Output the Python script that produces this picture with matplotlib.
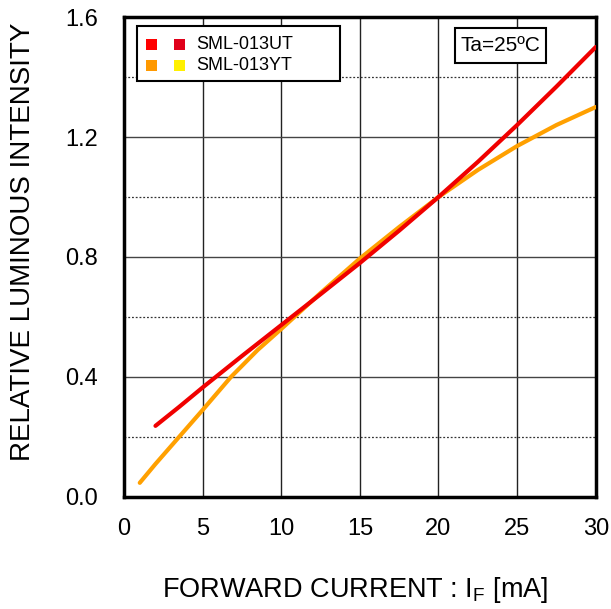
import matplotlib
matplotlib.use("Agg")
import matplotlib.pyplot as plt
from matplotlib.patches import Rectangle

plt.rcParams['font.family'] = ['Liberation Sans', 'DejaVu Sans']

# Data
ut_x = [2, 3.5, 5, 7.5, 10, 12.5, 15, 17.5, 20, 22.5, 25, 27.5, 30]
ut_y = [0.237, 0.30, 0.365, 0.47, 0.573, 0.676, 0.78, 0.888, 1.0, 1.117, 1.24, 1.368, 1.5]
yt_x = [1, 2, 3.5, 5, 6.8, 8.5, 10, 12.5, 15, 17.5, 20, 22.5, 25, 27.5, 30]
yt_y = [0.047, 0.11, 0.2, 0.29, 0.4, 0.49, 0.56, 0.68, 0.795, 0.90, 1.0, 1.09, 1.17, 1.24, 1.30]

xticks = [0, 5, 10, 15, 20, 25, 30]
yticks = [0.0, 0.4, 0.8, 1.2, 1.6]
ytick_labels = ["0.0", "0.4", "0.8", "1.2", "1.6"]
minor_y = [0.2, 0.6, 1.0, 1.4]

legend_labels = ["SML-013UT", "SML-013YT"]
legend_colors = [("#ff0000", "#e0001a"), ("#ff9900", "#fff000")]
red_line = "#f00000"
orange_line = "#ffa000"

fig = plt.figure(figsize=(6.11, 6.09), dpi=100)
ax = fig.add_axes([0.203, 0.184, 0.772, 0.788])
ax.set_xlim(0, 30)
ax.set_ylim(0, 1.6)

for x in xticks[1:-1]:
    ax.axvline(x, color="#222222", lw=1.0, zorder=1)
for y in yticks[1:-1]:
    ax.axhline(y, color="#444444", lw=1.0, zorder=1)
for y in minor_y:
    ax.axhline(y, color="#333333", lw=0.9, ls=(0, (1.5, 1.5)), zorder=1)

ax.plot(yt_x, yt_y, color=orange_line, lw=3, solid_capstyle="round", zorder=3)
ax.plot(ut_x, ut_y, color=red_line, lw=3, solid_capstyle="round", zorder=4)

ax.set_xticks(xticks)
ax.set_xticklabels([str(v) for v in xticks])
ax.set_yticks(yticks)
ax.set_yticklabels(ytick_labels)
ax.tick_params(length=0, labelsize=17)
ax.tick_params(axis="x", pad=15)
ax.tick_params(axis="y", pad=19)
for s in ax.spines.values():
    s.set_linewidth(2.5)
    s.set_color("black")

ax.set_ylabel("RELATIVE LUMINOUS INTENSITY", fontsize=20)
ax.yaxis.set_label_coords(-0.186, 0.531)
ax.set_xlabel("FORWARD CURRENT : I$_\\mathregular{F}$ [mA]", fontsize=19.5)
ax.xaxis.set_label_coords(0.490, -0.163)

# Legend (manual)
def px(xp, yp):
    # figure pixel (from top-left) to axes fraction
    x0, x1 = 124, 596
    y0, y1 = 497, 17
    return (xp - x0) / (x1 - x0), (y0 - yp) / (y0 - y1)

lx0, ly0 = px(137, 81)
lx1, ly1 = px(340, 26)
ax.add_patch(Rectangle((lx0, ly0), lx1 - lx0, ly1 - ly0, transform=ax.transAxes,
                       facecolor="white", edgecolor="black", lw=1.5, zorder=6))
rows_y = [44, 65]
for (c1, c2), lab, ry in zip(legend_colors, legend_labels, rows_y):
    for cx, c in ((146, c1), (174, c2)):
        ax0, ay0 = px(cx, ry + 5.5)
        ax1, ay1 = px(cx + 11, ry - 5.5)
        ax.add_patch(Rectangle((ax0, ay0), ax1 - ax0, ay1 - ay0, transform=ax.transAxes,
                               facecolor=c, edgecolor="none", zorder=7))
    tx, ty = px(196, ry)
    ax.text(tx, ty, lab, transform=ax.transAxes, fontsize=13, va="center", ha="left", zorder=7)

tx0, ty0 = px(455, 63)
tx1, ty1 = px(546, 28)
ax.add_patch(Rectangle((tx0, ty0), tx1 - tx0, ty1 - ty0, transform=ax.transAxes,
                       facecolor="white", edgecolor="black", lw=1.5, zorder=6))
ax.text((tx0 + tx1) / 2, (ty0 + ty1) / 2, "Ta=25ºC", transform=ax.transAxes,
        fontsize=15, ha="center", va="center", zorder=7)

fig.savefig("out.png", dpi=100)
